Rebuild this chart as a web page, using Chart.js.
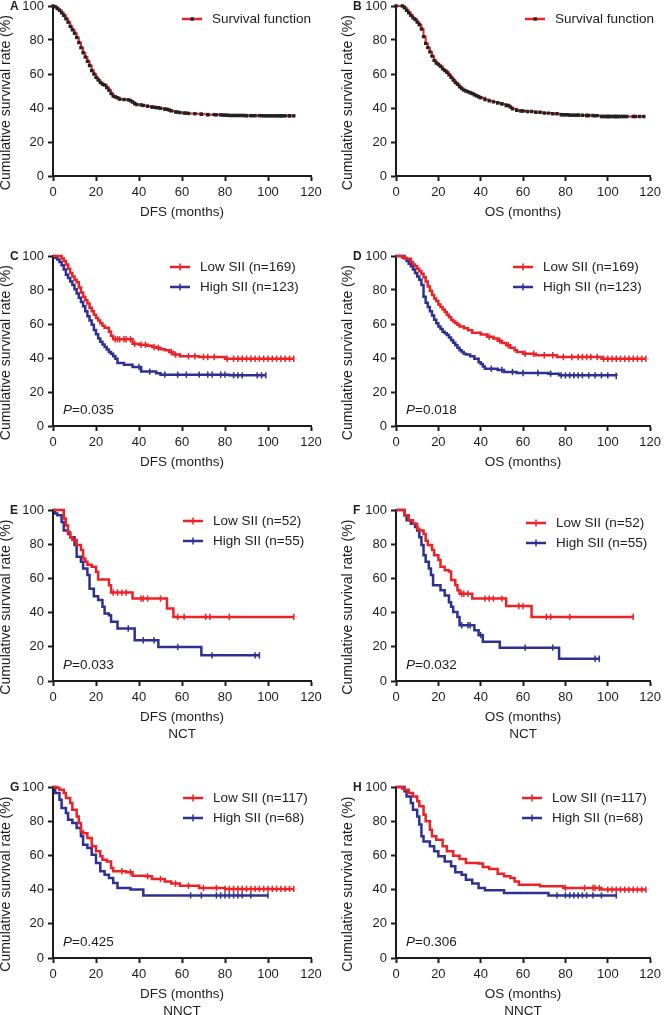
<!DOCTYPE html>
<html>
<head>
<meta charset="utf-8">
<title>Survival curves by SII</title>
<script src="https://cdn.jsdelivr.net/npm/chart.js@4.4.1/dist/chart.umd.min.js"></script>
<style>
  html, body { margin: 0; padding: 0; background: #fff; }
  body { width: 665px; height: 1015px; position: relative; overflow: hidden; }
  canvas { position: absolute; }
</style>
</head>
<body>
<script>
// ---- DATA (months, survival %) ----
// A: DFS, all patients
const dfsAllT = [0,1,2,3,4,5,6,7,8,9,10,11,12,13,14,15,16,17,18,19,20,21,22,23,24,25,26,27,28,29,30,31,33,35,36,37,38,39,41,42,44,46,48,50,52,54,55,57,59,61,63,66,69,72,76,79,82,86,90,94,98,102,106,110,112];
const dfsAllS = [100,99.5,98.5,97.5,96,94.5,92.5,90.5,88,86,84,81.5,78.5,75.5,72.5,70,67.5,65,62,60,58,56.5,55,54,53.5,52,50.5,48.5,47,46.5,46,45.2,45,44.8,44.3,43.5,42.5,42,41.8,41.5,41,40.5,40.2,39.8,39.3,38.8,38.3,37.6,37.3,37,36.8,36.6,36.3,36.1,36,35.8,35.6,35.6,35.5,35.5,35.4,35.4,35.4,35.4,35.4];
const dfsAllC = [47,49,53,58,62,69,72,75,78,80,81,83,84,85,87,88,89,90,92,93,96,97,99,100,101,103,104,105,106,107,108,110];

// B: OS, all patients
const osAllT = [0,3,4,5,6,7,8,9,10,11,12,13,14,15,16,17,18,19,20,21,22,23,24,25,26,27,28,29,30,31,32,33,34,35,36,37,38,39,40,42,44,46,48,50,52,54,55,57,59,62,66,70,74,78,82,86,90,94,97,100,104,108,112,117];
const osAllS = [100,100,99,97.5,96,94.5,93,92,90.5,89,86.5,82,78,75.5,73,70.5,68,66.5,65.5,64.5,63,62,61,59.5,58,56.5,55,54,52.5,51.5,50.5,50,49.5,49,48.5,47.8,47.2,46.6,46,45,44.2,43.6,43,42.4,41.5,40.5,39.5,38.6,38.2,37.9,37.5,37,36.6,36,35.8,35.7,35.6,35.5,35,35,35,35,35,35];
const osAllC = [48,50,53,57,60,64,68,72,76,79,80,81,83,84,85,86,88,90,91,93,94,95,98,99,100,101,102,103,104,105,106,107,109,113,115];

// C: DFS, low vs high SII
const dfsLowT = [0,4,5,6,7,8,9,10,11,12,13,14,15,16,17,18,19,20,21,22,23,24,26,27,28,37,40,44,46,48,50,52,54,56,59,68,80,112];
const dfsLowS = [100,98.5,97,95,92.5,90,88,86,84.5,81.5,78.5,76,74,72,69.5,67.5,65.5,63.5,62,60.5,59,57.8,55.5,53,51,48.4,47.8,47.2,46.5,46,45.2,44.5,43.5,42,41,40.6,39.6,39.6];
const dfsLowC = [29,30,31,33,34,36,38,41,43,47,49,55,57,63,66,70,72,75,81,84,86,88,90,92,94,96,98,100,102,104,106,108,110,112];
const dfsHighT = [0,1,2,3,4,5,6,7,8,9,10,11,12,13,14,15,16,17,18,19,20,21,22,23,24,25,26,27,28,29,30,33,37,41,48,50,82,99];
const dfsHighS = [100,99,98,96.5,94.5,92,89,87,85,83,80.5,78,75.5,73,70.5,67.5,64.5,62,59.5,56.5,54,51.5,49.5,48,46.5,45,43.5,42.5,41,39.5,37,36,34.7,32,31,30.2,29.8,29.8];
const dfsHighC = [40,45,52,58,62,68,72,74,78,80,84,86,88,95,97,99];

// D: OS, low vs high SII
const osLowT = [0,3,5,7,8,9,10,11,12,13,14,15,16,17,18,19,20,21,22,23,24,25,26,27,28,29,30,32,34,36,40,43,46,48,50,52,54,56,57,60,66,76,97,118];
const osLowS = [100,99,98.4,96.5,95,94,92.5,91,89.5,87.5,85,82,79.5,77,75,73.5,71.5,70,68.5,67,65.5,64,62.5,61.5,60.5,59.5,58.6,57.5,56.3,54.8,53.8,52.5,51.4,50.2,48.8,47.5,46,44.5,43.5,42.5,41.6,40.6,39.6,39.6];
const osLowC = [44,49,53,61,65,70,74,79,83,86,88,90,92,95,98,100,102,104,106,108,110,112,114,116,118];
const osHighT = [0,3,4,5,6,7,8,9,10,11,12,13,14,15,16,17,18,19,20,21,22,23,24,25,26,27,28,29,30,31,32,33,35,37,39,40,41,42,48,51,57,72,77,104];
const osHighS = [100,100,98.5,97,95.5,94,92,90,88,86,83,76,72.5,70,67.5,65,62.5,60.5,58.5,57,55.5,54.5,53.5,52,50.5,49,47.5,46,44.5,43.5,42.5,42,41,39.5,37.5,36.5,35,33.7,33,31.8,31.2,30.8,29.8,29.4];
const osHighC = [45,50,55,60,67,73,78,80,82,84,86,88,91,94,97,100,104];

// E: DFS, NCT
const ncDfsLowT = [0,5,6,7,8,9,11,13,14,15,16,18,20,21,26,27,37,53,56,112];
const ncDfsLowS = [100,95,91,87,84,82.4,79.5,76.6,71.7,69.7,68,66.8,63.9,59.4,56,51.7,48.2,42.4,37.5,37.5];
const ncDfsLowC = [28,30,32,34,41,42,44,50,58,61,71,73,82,112];
const ncDfsHighT = [0,1,2,4,5,7,8,10,11,13,14,16,17,19,21,23,24,26,27,30,38,49,69,96];
const ncDfsHighS = [100,98,97,93,88,86,84,79.5,72.6,69.7,65.8,62,54,49.6,47.3,43.4,39.5,38.5,34.6,30.7,23.8,19.9,15,15];
const ncDfsHighC = [35,42,47,58,74,94,96];

// F: OS, NCT
const ncOsLowT = [0,4,6,8,10,11,13,14,15,17,18,20,21,23,25,26,28,29,30,36,52,64,112];
const ncOsLowS = [100,97,94,92,89,88,86,82,79.5,76.6,73.6,70.7,66.8,64.8,64,59,56,53,51,48.2,43.8,37.5,37.5];
const ncOsLowC = [31,32,34,42,44,46,50,58,60,71,73,82,112];
const ncOsHighT = [0,4,5,7,9,10,11,12,13,14,15.5,16.5,17.5,21,23,25,26,27,29,30,37,39,41,49,77,96];
const ncOsHighS = [100,97,94,92,90,88,84,79.5,73.6,69.7,65.8,62,56,53,50,46.1,43.4,40.4,37.5,32.6,29.7,26.8,22.9,19.5,13,13];
const ncOsHighC = [31,34,35,40,61,74,94,96];

// G: DFS, NNCT
const nnDfsLowT = [0,2,3,5,6,8,9,11,12,13,14,16,18,20,22,23,25,27,28,34,37,43,46,52,55,59,68,80,112];
const nnDfsLowS = [100,99.4,98.4,96.5,93.6,90.6,86.7,82.8,79,74,73,70.2,65.3,62.4,59.5,57.5,56.5,52.6,50.7,50.1,48.1,47.8,46.2,44.8,43.5,42.3,40.9,40.4,40.4];
const nnDfsLowC = [32,36,44,50,57,63,70,76,80,82,84,86,88,90,92,94,96,98,100,102,104,106,108,110,112];
const nnDfsHighT = [0,1,3,4,6,7,9,11,13,14,16,18,20,22,24,26,28,30,36,42,100];
const nnDfsHighS = [100,96.5,92.6,87.7,84.8,80.9,79,76,71.2,66.3,64.3,60.4,55.6,50.7,48.7,46.8,43.9,41,40,36.6,36.6];
const nnDfsHighC = [64,69,76,78,80,82,84,86,88,92,100];

// H: OS, NNCT
const nnOsLowT = [0,3,4,6,8,10,11,13,14,16,17,19,22,24,27,30,33,39,41,44,48,51,54,56,58,68,79,97,118];
const nnOsLowS = [100,99,98.4,96.5,94.5,91.6,88.7,83.8,79.9,75,71.2,69.2,65.3,62.4,59.8,57.9,55.6,55.2,53.2,52,49.3,47.8,46.8,44.8,42.9,41.9,40.9,40,40];
const nnOsLowC = [80,89,93,94,96,100,102,104,106,108,110,112,114,116,118];
const nnOsHighT = [0,3,4,5,7,8,10,11,12,13,16,18,20,23,26,28,31,33,36,39,42,51,72,104];
const nnOsHighS = [100,100,97.5,94.5,90.6,86.7,82.8,78,71.2,68.2,65.3,62.4,59.5,56.5,53.6,50.1,48.7,45.8,43.5,40.9,39.6,38,36.6,36.6];
const nnOsHighC = [76,80,82,84,86,88,90,93,97,104];

// ---- STYLE ----
const FONT = "'Liberation Sans', Arial, sans-serif";
const INK = '#1c1c1c';
const RED = '#ec2227';
const BLUE = '#2e3192';

// column / row geometry in page pixels
const COLS = [
  { cx: 0, cw: 333, left: 53, right: 311, yPad: -2.4, letterX: 10 },
  { cx: 333, cw: 332, left: 396, right: 653, yPad: 6.6, letterX: 20 }
];
const ROWS = [
  { cy: -10, ch: 250, top: 6, bottom: 176 },
  { cy: 240, ch: 250, top: 256, bottom: 426 },
  { cy: 490, ch: 275, top: 510, bottom: 681 },
  { cy: 765, ch: 265, top: 787, bottom: 958 }
];

function km(t, s) { return t.map((x, i) => ({ x: x, y: s[i] })); }
function valueAt(t, s, x) {
  let v = s[0];
  for (let i = 0; i < t.length; i++) if (t[i] <= x) v = s[i];
  return v;
}
function cens(t, s, c) { return c.map(x => ({ x: x, y: valueAt(t, s, x) })); }

const panels = [
  { letter: 'A', col: 0, row: 0, xTitle: 'DFS (months)', lx: 129, ly: 13,
    sets: [{ label: 'Survival function', t: dfsAllT, s: dfsAllS, c: dfsAllC, color: RED, dots: true }] },
  { letter: 'B', col: 1, row: 0, xTitle: 'OS (months)', lx: 129, ly: 13,
    sets: [{ label: 'Survival function', t: osAllT, s: osAllS, c: osAllC, color: RED, dots: true }] },
  { letter: 'C', col: 0, row: 1, xTitle: 'DFS (months)', lx: 117, ly: 11, p: '0.035',
    sets: [{ label: 'Low SII (n=169)', t: dfsLowT, s: dfsLowS, c: dfsLowC, color: RED },
           { label: 'High SII (n=123)', t: dfsHighT, s: dfsHighS, c: dfsHighC, color: BLUE }] },
  { letter: 'D', col: 1, row: 1, xTitle: 'OS (months)', lx: 117, ly: 11, p: '0.018',
    sets: [{ label: 'Low SII (n=169)', t: osLowT, s: osLowS, c: osLowC, color: RED },
           { label: 'High SII (n=123)', t: osHighT, s: osHighS, c: osHighC, color: BLUE }] },
  { letter: 'E', col: 0, row: 2, xTitle: ['DFS (months)', 'NCT'], lx: 130, ly: 11, p: '0.033',
    sets: [{ label: 'Low SII (n=52)', t: ncDfsLowT, s: ncDfsLowS, c: ncDfsLowC, color: RED },
           { label: 'High SII (n=55)', t: ncDfsHighT, s: ncDfsHighS, c: ncDfsHighC, color: BLUE }] },
  { letter: 'F', col: 1, row: 2, xTitle: ['OS (months)', 'NCT'], lx: 130, ly: 13, p: '0.032',
    sets: [{ label: 'Low SII (n=52)', t: ncOsLowT, s: ncOsLowS, c: ncOsLowC, color: RED },
           { label: 'High SII (n=55)', t: ncOsHighT, s: ncOsHighS, c: ncOsHighC, color: BLUE }] },
  { letter: 'G', col: 0, row: 3, xTitle: ['DFS (months)', 'NNCT'], lx: 130, ly: 11, p: '0.425',
    sets: [{ label: 'Low SII (n=117)', t: nnDfsLowT, s: nnDfsLowS, c: nnDfsLowC, color: RED },
           { label: 'High SII (n=68)', t: nnDfsHighT, s: nnDfsHighS, c: nnDfsHighC, color: BLUE }] },
  { letter: 'H', col: 1, row: 3, xTitle: ['OS (months)', 'NNCT'], lx: 126, ly: 11, p: '0.306',
    sets: [{ label: 'Low SII (n=117)', t: nnOsLowT, s: nnOsLowS, c: nnOsLowC, color: RED },
           { label: 'High SII (n=68)', t: nnOsHighT, s: nnOsHighS, c: nnOsHighC, color: BLUE }] }
];

// panel letter, legend and P value
const decor = {
  id: 'decor',
  afterDraw(chart, args, o) {
    const ctx = chart.ctx, a = chart.chartArea;
    ctx.save();
    ctx.textBaseline = 'middle';
    ctx.textAlign = 'left';
    ctx.fillStyle = INK;
    ctx.font = 'bold 12px ' + FONT;
    ctx.fillText(o.letter, o.letterX, a.top + 1);

    ctx.font = '13.5px ' + FONT;
    o.items.forEach((it, i) => {
      const y = a.top + o.ly + i * 20, x0 = a.left + o.lx;
      ctx.strokeStyle = it.color;
      ctx.lineWidth = 2.5;
      ctx.beginPath(); ctx.moveTo(x0, y); ctx.lineTo(x0 + 20, y); ctx.stroke();
      if (it.dots) {
        ctx.fillStyle = '#222';
        ctx.fillRect(x0 + 8.5, y - 1.7, 3.4, 3.4);
      } else {
        ctx.lineWidth = 1.5;
        ctx.beginPath(); ctx.moveTo(x0 + 10, y - 3.5); ctx.lineTo(x0 + 10, y + 3.5); ctx.stroke();
      }
      ctx.fillStyle = INK;
      ctx.fillText(it.label, x0 + 30, y);
    });

    if (o.p) {
      const x = a.left + 10, y = a.bottom - 16;
      ctx.font = 'italic 13.5px ' + FONT;
      ctx.fillText('P', x, y);
      const w = ctx.measureText('P').width;
      ctx.font = '13.5px ' + FONT;
      ctx.fillText('=' + o.p, x + w, y);
    }
    ctx.restore();
  }
};

function makePanel(p) {
  const col = COLS[p.col], row = ROWS[p.row];
  const cv = document.createElement('canvas');
  cv.width = col.cw; cv.height = row.ch;
  cv.style.left = col.cx + 'px'; cv.style.top = row.cy + 'px';
  document.body.appendChild(cv);

  const lines = Array.isArray(p.xTitle) ? p.xTitle.length : 1;
  const lh = 13.5 * 1.3;
  const xh = row.cy + row.ch - row.bottom;
  const padBottom = xh - 36 - lh / 2 - lh * (lines - 1);

  const censSets = [], curveSets = [];
  p.sets.forEach(d => {
    censSets.push({
      data: cens(d.t, d.s, d.c), showLine: false, clip: 6,
      pointStyle: d.dots ? 'rect' : 'line',
      pointRotation: d.dots ? 0 : 90,
      pointRadius: d.dots ? 2.4 : 3.2,
      pointBorderWidth: d.dots ? 0 : 1.5,
      pointBorderColor: d.dots ? '#222' : d.color,
      pointBackgroundColor: d.dots ? '#222' : d.color,
      borderColor: d.color
    });
    curveSets.push({
      data: km(d.t, d.s), showLine: true, stepped: 'before', clip: 6,
      borderColor: d.color, borderWidth: d.dots ? 2 : 2.5,
      pointStyle: 'rect', pointRadius: d.dots ? 2.4 : 0,
      pointBorderWidth: 0, pointBackgroundColor: '#222'
    });
  });

  new Chart(cv, {
    type: 'scatter',
    data: { datasets: censSets.concat(curveSets) },
    plugins: [decor],
    options: {
      responsive: false,
      animation: false,
      events: [],
      devicePixelRatio: 1,
      layout: { padding: { top: row.top - row.cy, left: 0, right: col.cx + col.cw - col.right, bottom: 0 } },
      plugins: {
        legend: { display: false },
        tooltip: { enabled: false },
        decor: {
          letter: p.letter, letterX: col.letterX, lx: p.lx, ly: p.ly, p: p.p,
          items: p.sets.map(d => ({ label: d.label, color: d.color, dots: d.dots }))
        }
      },
      scales: {
        x: {
          type: 'linear', min: 0, max: 120,
          ticks: { stepSize: 20, color: INK, padding: 4, maxRotation: 0, font: { family: FONT, size: 13 } },
          grid: { drawOnChartArea: false, tickLength: 5, tickColor: INK, tickWidth: 2 },
          border: { color: INK, width: 2 },
          title: { display: true, text: p.xTitle, color: INK, padding: { top: 0, bottom: padBottom },
                   font: { family: FONT, size: 13.5, lineHeight: 1.3 } },
          afterFit: s => { s.height = xh; }
        },
        y: {
          type: 'linear', min: 0, max: 100,
          ticks: { stepSize: 20, color: INK, padding: 4, font: { family: FONT, size: 13 } },
          grid: { drawOnChartArea: false, tickLength: 5, tickColor: INK, tickWidth: 2 },
          border: { color: INK, width: 2 },
          title: { display: true, text: 'Cumulative survival rate (%)\u00a0\u00a0\u00a0\u00a0\u00a0\u00a0',
                   color: INK, padding: { top: col.yPad, bottom: 0 },
                   font: { family: FONT, size: 14, lineHeight: 1.2 } },
          afterFit: s => { s.width = col.left - col.cx; }
        }
      }
    }
  });
}

panels.forEach(makePanel);
</script>
</body>
</html>
